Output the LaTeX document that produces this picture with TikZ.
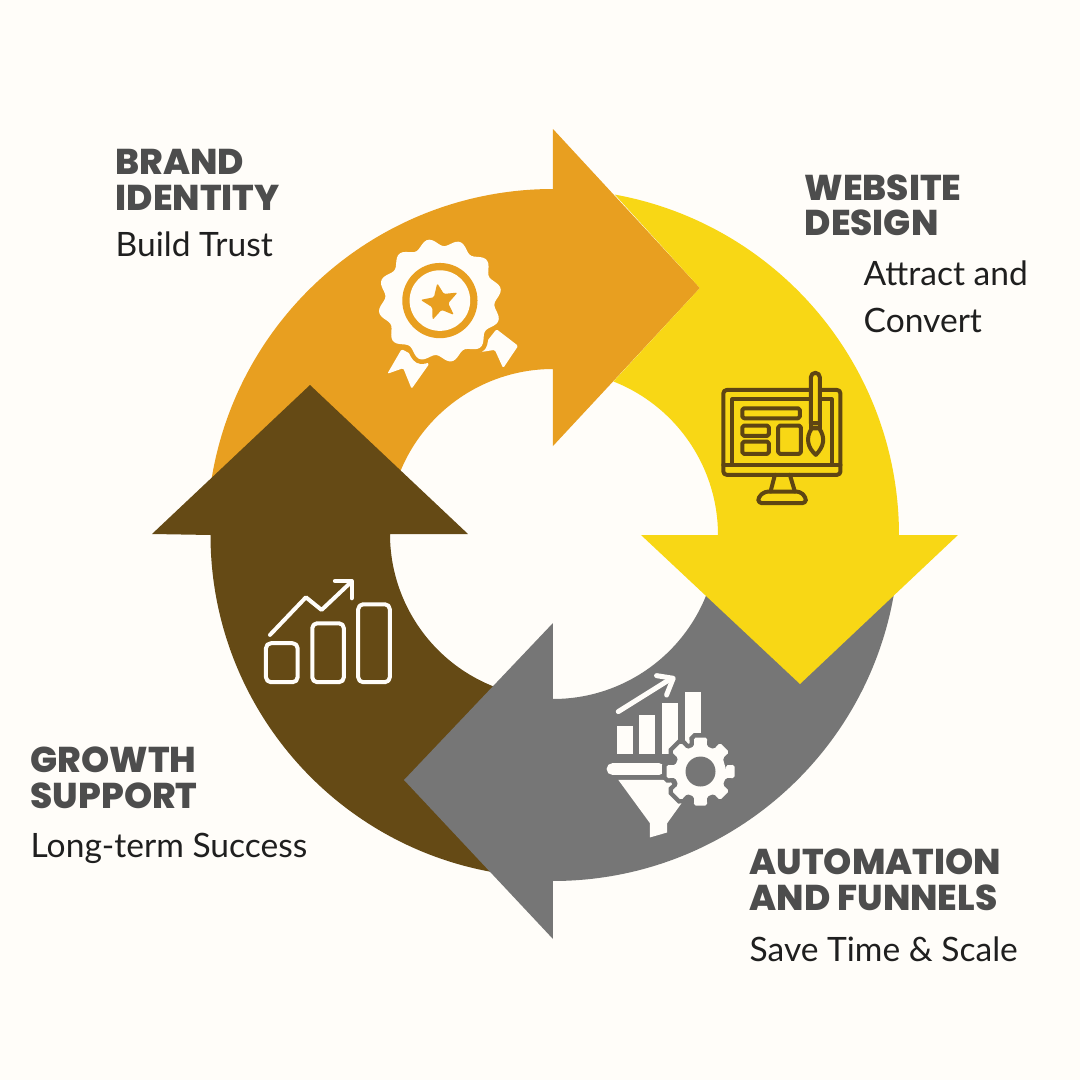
\documentclass[tikz,border=0pt]{standalone}
\usepackage{fontspec}
\setmainfont{Lato}
\newfontfamily\headfont{Poppins}[BoldFont={* ExtraBold}]
\usetikzlibrary{calc}
\definecolor{paper}{HTML}{FFFDF9}
\definecolor{orangearm}{HTML}{E89F20}
\definecolor{yellowarm}{HTML}{F8D715}
\definecolor{grayarm}{HTML}{767676}
\definecolor{brownarm}{HTML}{654A15}
\definecolor{heading}{HTML}{4D4D4D}
\definecolor{body}{HTML}{1F1F1F}
\definecolor{iconline}{HTML}{5E4513}
\tikzset{
  headlbl/.style={text=heading, font=\headfont\bfseries\fontsize{10.2}{11}\selectfont, anchor=base west, inner sep=0pt},
  sublbl/.style={text=body, font=\fontsize{9.55}{13.3}\selectfont, anchor=base west, inner sep=0pt},
  iconw/.style={draw=paper, line width=0.4mm, line join=round, line cap=round},
  icony/.style={draw=iconline, line width=0.4mm, line join=round, line cap=round},
  iconfill/.style={fill=paper}
}

\begin{document}
\begin{tikzpicture}[x=0.1mm, y=0.1mm]
  \useasboundingbox (0,0) rectangle (1080,1080);
  \fill[paper] (0,0) rectangle (1080,1080);
  \coordinate (O) at (553,545);

  % arms of the wheel
  \fill[orangearm] ($(O)+(175:346)$) arc[start angle=175, end angle=90, radius=346]
    -- (553,951) -- (700,792) -- (553,634) -- (553,711)
    arc[start angle=90, end angle=165, radius=165] -- cycle;
  \fill[brownarm] ($(O)+(262:342.5)$) arc[start angle=262, end angle=180, radius=342.5]
    -- (152,546) -- (310,695) -- (468,546) -- (390,546)
    arc[start angle=180, end angle=250, radius=164] -- cycle;
  \fill[grayarm] ($(O)+(352:346)$) arc[start angle=352, end angle=270, radius=346]
    -- (553,141) -- (404,300) -- (553,457) -- (553,381)
    arc[start angle=270, end angle=345, radius=165] -- cycle;
  \fill[yellowarm] (700,792) -- ($(O)+(79.7:346)$) arc[start angle=79.7, end angle=0, radius=346]
    -- (958,545) -- (800,396) -- (641,545) -- (718,545)
    arc[start angle=0, end angle=68.5, radius=165] -- cycle;

  % medal
  \begin{scope}[shift={(360,860)}, x=0.0333mm, y=-0.0333mm]
    \fill[iconfill, rounded corners=0.4pt] (125,388) -- (208,432) -- (155,507) -- (130,445) -- (82,462) -- cycle;
    \fill[iconfill, rounded corners=0.4pt] (410,328) -- (475,378) -- (430,445) -- (405,390) -- (355,398) -- cycle;
    \path[iconfill, preaction={draw=orangearm, line width=0.9mm}] plot[domain=0:360, samples=145, smooth] ({240+(175+11*cos(12*(\x-19)))*cos(\x)}, {242+(175+11*cos(12*(\x-19)))*sin(\x)}) -- cycle;
    \fill[orangearm] (240,242) circle (113);
    \fill[paper] (240,242) circle (91);
    \fill[orangearm, rounded corners=0.4pt] (232,190) -- (252,222) -- (293,218) -- (265,250) -- (282,285) -- (245,270) -- (218,300) -- (217,262) -- (182,240) -- (222,232) -- cycle;
  \end{scope}

  % monitor and brush
  \begin{scope}[shift={(700,720)}, x=0.0333mm, y=-0.0333mm]
    \draw[icony, rounded corners=1pt] (70,90) rectangle (422,345);
    \draw[icony] (97,315) -- (97,118) -- (395,118) -- (395,315);
    \draw[icony] (70,315) -- (422,315);
    \draw[icony] (225,345) -- (212,395);
    \draw[icony] (270,345) -- (285,395);
    \draw[icony, rounded corners=1pt] (175,430) -- (175,412) -- (195,395) -- (300,395) -- (318,412) -- (318,430) -- cycle;
    \draw[icony, rounded corners=0.5pt] (127,145) rectangle (300,175);
    \draw[icony, rounded corners=0.5pt] (127,197) rectangle (207,228);
    \draw[icony, rounded corners=0.5pt] (127,245) rectangle (207,282);
    \draw[icony, rounded corners=0.5pt] (235,197) rectangle (303,282);
    \filldraw[icony, fill=yellowarm] (333,190) -- (333,52) arc[start angle=180, end angle=360, radius=13.5] -- (360,190) -- cycle;
    \filldraw[icony, fill=yellowarm] (336,205) .. controls (315,235) and (325,265) .. (348,285) .. controls (372,260) and (378,235) .. (358,205) -- cycle;
    \draw[icony] (333,190) rectangle (360,205);
  \end{scope}

  % funnel and gear
  \begin{scope}[shift={(590,420)}, x=0.0333mm, y=-0.0333mm]
    \draw[iconw, line width=0.5mm] (85,155) -- (245,55);
    \draw[iconw, line width=0.5mm] (200,47) -- (250,55) -- (230,105);
    \fill[iconfill] (80,198) rectangle (128,282);
    \fill[iconfill] (148,165) rectangle (195,282);
    \fill[iconfill] (217,130) rectangle (265,282);
    \fill[iconfill] (285,97) rectangle (332,260);
    \fill[iconfill, rounded corners=1.6pt] (50,310) rectangle (225,345);
    \fill[iconfill] (85,360) -- (240,360) -- (275,430) -- (232,490) -- (232,518) -- (180,533) -- (180,490) -- cycle;
    \begin{scope}[shift={(332,335)}]
      \path[iconfill, rounded corners=0.5pt, preaction={draw=grayarm, line width=0.9mm}]
        (0:78) \foreach \a in {0,45,...,315} { -- (\a-14:78) -- (\a-11:104) -- (\a+11:104) -- (\a+14:78) } -- cycle;
      \fill[grayarm] (0,0) circle (45);
    \end{scope}
  \end{scope}

  % growth chart
  \begin{scope}[shift={(250,515)}, x=0.0333mm, y=-0.0333mm]
    \draw[iconw] (60,210) -- (168,97) -- (215,135) -- (305,50);
    \draw[iconw] (255,48) -- (305,48) -- (305,100);
    \draw[iconw, rounded corners=1.4pt] (48,235) rectangle (143,352);
    \draw[iconw, rounded corners=1.4pt] (187,175) rectangle (282,352);
    \draw[iconw, rounded corners=1.4pt] (325,118) rectangle (420,352);
  \end{scope}

  % labels
  \node[headlbl] (brand) at (115,906) {BRAND};
  \node[headlbl] (identity) at (115,870) {IDENTITY};
  \node[sublbl] (trust) at (115,824) {Build Trust};
  \node[headlbl] (website) at (804,880) {WEBSITE};
  \node[headlbl] (design) at (804,845) {DESIGN};
  \node[sublbl] (attract) at (863,795) {Attract and};
  \node[sublbl] (convert) at (863,748) {Convert};
  \node[headlbl] (growth) at (30,308) {GROWTH};
  \node[headlbl] (support) at (30,272) {SUPPORT};
  \node[sublbl] (success) at (30,223) {Long-term Success};
  \node[headlbl] (automation) at (749,205) {AUTOMATION};
  \node[headlbl] (funnels) at (749,170) {AND FUNNELS};
  \node[sublbl] (scale) at (749,119) {Save Time \& Scale};
\end{tikzpicture}
\end{document}
